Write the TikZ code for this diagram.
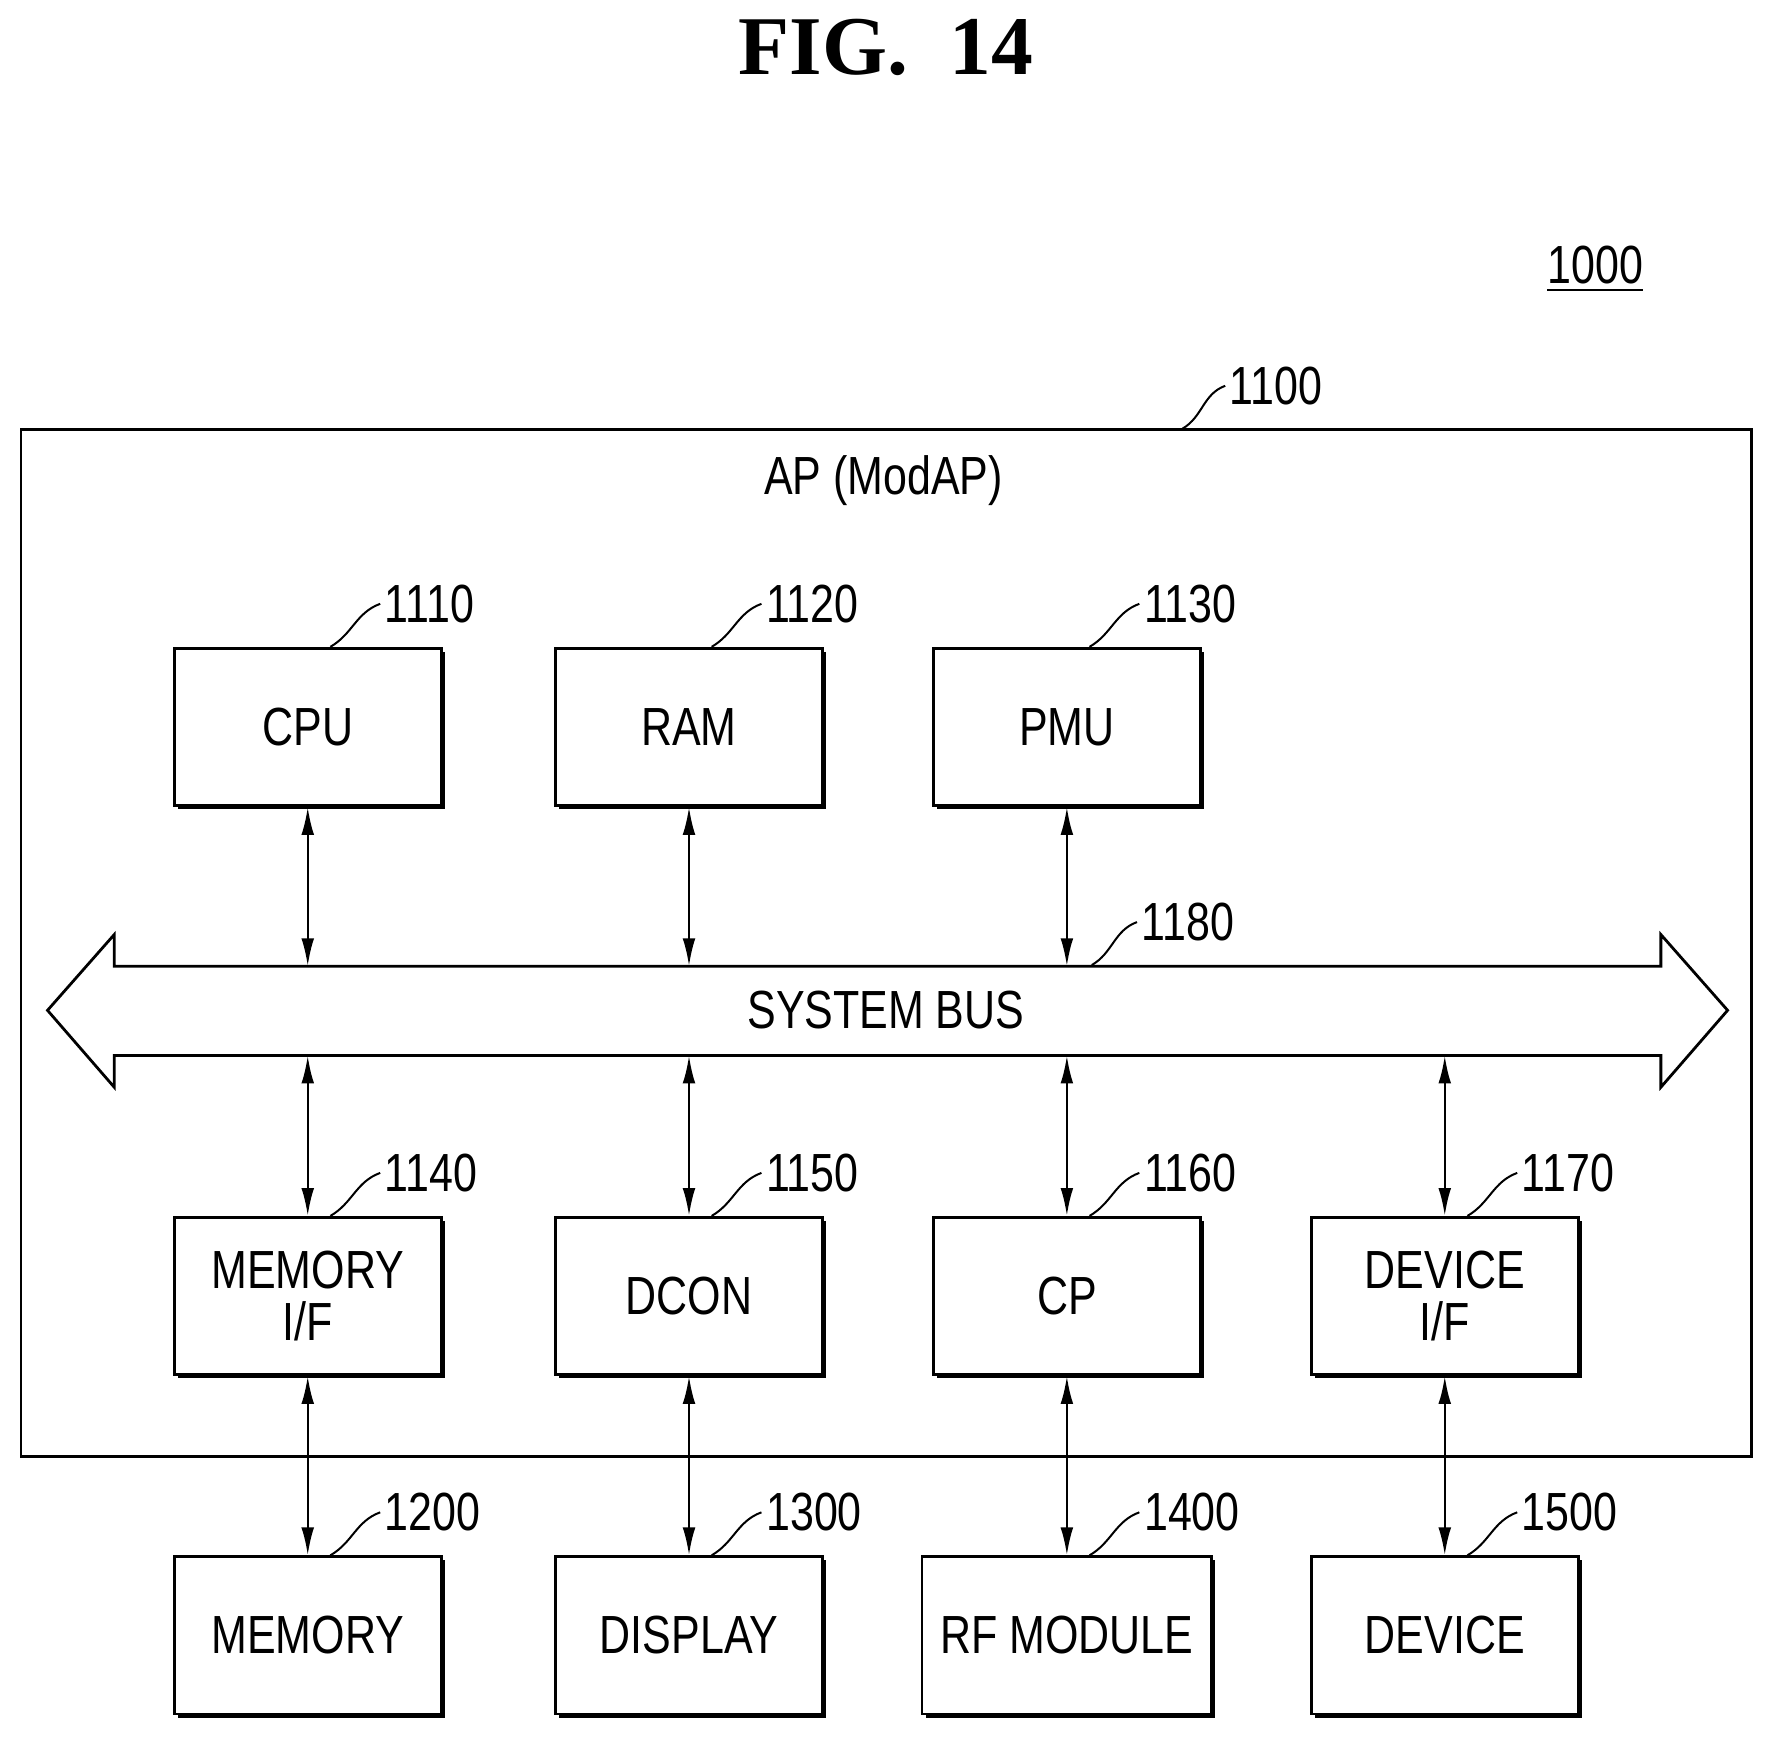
\documentclass[tikz,border=0pt]{standalone}
\usepackage{fontspec}
\setmainfont{Liberation Serif}
\newfontfamily\lblfont[FakeStretch=0.8]{Liberation Sans}
\usetikzlibrary{arrows.meta,positioning,shadows}

\begin{document}
\begin{tikzpicture}[
    x = 0.01cm, y = -0.01cm,
    blk/.style = {draw, line width=0.7pt, fill=white, minimum width=2.36cm,
        minimum height=1.39cm, inner xsep=2pt, align=center, font=\lblfont\fontsize{13.5}{15}\selectfont,
        drop shadow={opacity=1, fill=black, shadow xshift=0.9pt, shadow yshift=-0.9pt}},
    num/.style = {font=\lblfont\fontsize{13.5}{15}\selectfont, inner sep=1pt},
    lead/.style = {line width=0.5pt},
    link/.style = {{Latex[length=7pt,width=3.2pt]}-{Latex[length=7pt,width=3.2pt]}, line width=0.6pt}
    ]
    \useasboundingbox (0,0) rectangle (1568,1536);

    % title and reference numbers
    \node (title) at (783,42) {\fontsize{21}{23}\selectfont\bfseries FIG.\ \ 14};
    \node[num] (n1000) at (1410,238) {\underline{1000}};

    % application processor
    \node[draw, line width=0.7pt, minimum width=15.29cm, minimum height=9.07cm] (ap) at (783.5,833.5) {};
    \node[num] (apname) at (781,425) {AP (ModAP)};
    \node[num] (n1100) at (1128,341) {1100};
    \draw[lead] (1045,379) to[out=30,in=200] (n1100.west);

    % blocks on top of the bus
    \node[blk] (cpu) at (272,642.5) {CPU};
    \node[blk] (ram) at (609,642.5) {RAM};
    \node[blk] (pmu) at (943,642.5) {PMU};

    % blocks below the bus
    \node[blk] (memif) at (272,1145.5) {MEMORY\\[-2pt]I/F};
    \node[blk] (dcon) at (609,1145.5) {DCON};
    \node[blk] (cp) at (943,1145.5) {CP};
    \node[blk] (devif) at (1277,1145.5) {DEVICE\\[-2pt]I/F};

    % external blocks
    \node[blk] (mem) at (272,1445.5) {MEMORY};
    \node[blk] (disp) at (609,1445.5) {DISPLAY};
    \node[blk, minimum width=2.56cm] (rf) at (943,1445.5) {RF MODULE};
    \node[blk] (dev) at (1277,1445.5) {DEVICE};

    % system bus
    \draw[line width=0.7pt, fill=white] (101,854) -- (1468,854) -- (1468,826) -- (1527,893)
        -- (1468,961) -- (1468,933) -- (101,933) -- (101,961) -- (42,893) -- (101,826) -- cycle;
    \node[num] (bus) at (783,893) {SYSTEM BUS};
    \coordinate (bustop) at (0,854);
    \coordinate (busbot) at (0,933);
    \node[num] (n1180) at (1050,815) {1180};
    \draw[lead] (965,853) to[out=30,in=200] (n1180.west);

    % reference numbers of the blocks
    \foreach \b/\t in {cpu/1110, ram/1120, pmu/1130, memif/1140, dcon/1150,
        cp/1160, devif/1170, mem/1200, disp/1300, dev/1500} {
        \node[num, anchor=west] (n\t) at ([xshift=0.64cm,yshift=0.38cm]\b.north) {\t};
        \draw[lead] ([xshift=0.2cm]\b.north) to[out=30,in=200] (n\t.west);
    }
    \node[num, anchor=west] (n1400) at ([xshift=0.64cm,yshift=0.38cm]cp.north |- rf.north) {1400};
    \draw[lead] ([xshift=0.2cm]rf.north) to[out=30,in=200] (n1400.west);

    % links
    \foreach \b in {cpu, ram, pmu}
        \draw[link] (\b.south) -- (\b.south |- bustop);
    \foreach \b in {memif, dcon, cp, devif}
        \draw[link] (\b.north |- busbot) -- (\b.north);
    \draw[link] (memif.south) -- (mem.north);
    \draw[link] (dcon.south) -- (disp.north);
    \draw[link] (cp.south) -- (rf.north);
    \draw[link] (devif.south) -- (dev.north);
\end{tikzpicture}
\end{document}
